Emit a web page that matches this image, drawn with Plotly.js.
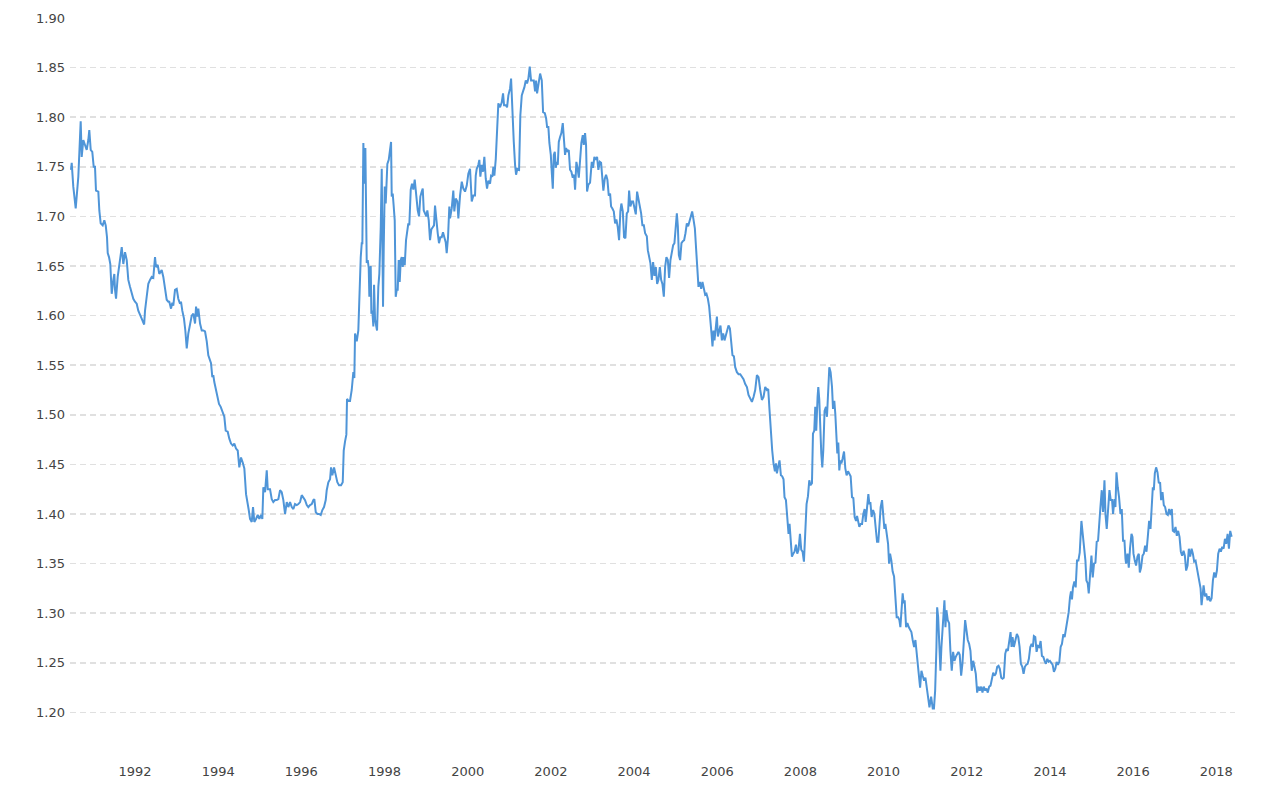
<!DOCTYPE html>
<html>
<head>
<meta charset="utf-8">
<script src="https://cdn.plot.ly/plotly-3.0.1.min.js"></script>
<style>
html,body{margin:0;padding:0;background:#fff;}
#chart{width:1280px;height:790px;}
</style>
</head>
<body>
<div id="chart"></div>
<script>
// Decimal years (time axis) and rate values
const years = [
1990.461,1990.478,1990.516,1990.574,1990.637,1990.694,1990.718,1990.757,1990.798,1990.839,1990.877,1990.901,1990.935,1990.973,1991.007,1991.038,1991.062,1991.118,1991.142,1991.175,1991.223,1991.262,1991.296,1991.327,1991.344,1991.375,1991.406,1991.440,1991.479,1991.503,1991.520,1991.544,1991.584,1991.640,1991.681,1991.719,1991.760,1991.801,1991.839,1991.880,1991.921,1991.959,1992.000,1992.041,1992.079,1992.120,1992.161,1992.220,1992.241,1992.281,1992.320,1992.361,1992.402,1992.440,1992.481,1992.505,1992.546,1992.584,1992.642,1992.681,1992.722,1992.762,1992.801,
1992.825,1992.866,1992.897,1992.921,1992.962,1993.003,1993.041,1993.082,1993.106,1993.137,1993.178,1993.210,1993.244,1993.282,1993.323,1993.364,1993.403,1993.444,1993.468,1993.499,1993.523,1993.564,1993.605,1993.643,1993.684,1993.725,1993.763,1993.804,1993.828,1993.859,1993.883,1993.907,1993.941,1993.980,1994.020,1994.061,1994.109,1994.148,1994.181,1994.229,1994.268,1994.309,1994.350,1994.388,1994.429,1994.470,1994.508,1994.549,1994.590,1994.629,1994.670,1994.701,1994.735,1994.766,1994.807,1994.838,1994.869,1994.910,1994.951,1994.990,1995.031,1995.062,
1995.086,1995.127,1995.168,1995.192,1995.247,1995.288,1995.326,1995.367,1995.408,1995.447,1995.488,1995.528,1995.567,1995.608,1995.649,1995.687,1995.728,1995.769,1995.808,1995.848,1995.889,1995.928,1995.969,1996.009,1996.048,1996.089,1996.130,1996.168,1996.209,1996.250,1996.288,1996.312,1996.346,1996.385,1996.425,1996.466,1996.505,1996.545,1996.586,1996.610,1996.649,1996.690,1996.714,1996.745,1996.786,1996.827,1996.865,1996.906,1996.954,1996.995,1997.019,1997.050,1997.082,1997.098,1997.130,1997.170,1997.211,1997.250,1997.274,1997.291,1997.332,1997.370,1997.394,
1997.428,1997.452,1997.467,1997.491,1997.515,1997.539,1997.556,1997.572,1997.596,1997.620,1997.635,1997.668,1997.683,1997.707,1997.731,1997.748,1997.772,1997.803,1997.820,1997.851,1997.875,1997.909,1997.933,1997.947,1997.964,1997.981,1998.005,1998.029,1998.053,1998.068,1998.101,1998.133,1998.157,1998.173,1998.197,1998.221,1998.245,1998.269,1998.293,1998.317,1998.341,1998.365,1998.390,1998.414,1998.438,1998.462,1998.486,1998.517,1998.548,1998.572,1998.596,1998.630,1998.661,1998.693,1998.726,1998.750,1998.774,1998.798,1998.830,1998.861,1998.895,1998.919,1998.943,1998.974,1999.005,1999.029,1999.063,1999.094,1999.125,1999.159,1999.190,1999.214,1999.245,1999.279,1999.310,1999.342,1999.375,1999.406,1999.438,1999.471,1999.495,1999.527,1999.558,
1999.575,1999.616,1999.654,1999.678,1999.712,1999.751,1999.775,1999.816,1999.857,1999.895,1999.936,1999.977,2000.015,2000.056,2000.097,2000.136,2000.176,2000.193,2000.217,2000.256,2000.280,2000.304,2000.337,2000.369,2000.400,2000.434,2000.465,2000.496,2000.537,2000.561,2000.593,2000.617,2000.641,2000.675,2000.706,2000.737,2000.778,2000.819,2000.850,2000.874,2000.915,2000.946,2000.978,2001.019,2001.043,2001.074,2001.108,2001.139,2001.163,2001.194,2001.235,2001.266,2001.300,2001.338,2001.362,2001.396,2001.427,2001.459,2001.492,2001.524,2001.555,2001.589,2001.620,2001.644,2001.668,2001.700,2001.741,2001.781,
2001.813,2001.854,2001.885,2001.909,2001.940,2001.964,2001.998,2002.022,2002.046,2002.070,2002.094,2002.118,2002.142,2002.166,2002.190,2002.221,2002.252,2002.286,2002.317,2002.341,2002.365,2002.397,2002.430,2002.461,2002.493,2002.526,2002.558,2002.582,2002.613,2002.637,2002.671,2002.702,2002.733,2002.767,2002.791,2002.822,2002.846,2002.870,2002.902,2002.942,2002.983,2003.014,2003.046,2003.080,2003.111,2003.142,2003.176,2003.207,2003.238,2003.262,2003.296,2003.327,2003.359,2003.392,2003.424,2003.448,2003.479,2003.513,2003.544,2003.575,2003.609,2003.640,2003.671,2003.695,2003.729,2003.760,2003.792,2003.825,2003.857,2003.881,2003.912,2003.946,2003.977,2004.008,2004.042,2004.073,2004.105,2004.138,
2004.170,2004.201,2004.235,2004.266,2004.307,2004.331,2004.362,2004.393,2004.427,2004.458,2004.490,2004.523,2004.555,2004.586,2004.620,2004.651,2004.682,2004.716,2004.747,2004.778,2004.812,2004.843,2004.875,2004.908,2004.940,2004.971,2004.995,2005.029,2005.053,2005.077,2005.108,2005.140,2005.173,2005.204,2005.236,2005.269,2005.301,2005.332,2005.366,2005.397,2005.429,2005.462,2005.494,2005.518,2005.549,2005.583,2005.614,2005.645,2005.679,2005.710,2005.741,2005.775,2005.806,2005.838,2005.862,2005.886,2005.910,2005.934,2005.968,2005.992,2006.016,2006.047,2006.078,2006.112,2006.143,2006.175,2006.208,2006.240,2006.271,2006.305,2006.336,2006.367,2006.401,
2006.432,2006.473,2006.512,2006.553,2006.593,2006.632,2006.673,2006.714,2006.752,2006.793,2006.834,2006.873,2006.913,2006.954,2006.993,2007.034,2007.074,2007.113,2007.154,2007.195,2007.226,2007.257,2007.291,2007.322,2007.353,2007.387,2007.411,2007.435,2007.466,2007.498,2007.531,2007.563,2007.594,2007.618,2007.652,2007.683,2007.715,2007.739,2007.763,2007.796,2007.828,2007.859,2007.893,2007.924,2007.955,2007.989,2008.020,2008.052,2008.085,2008.117,2008.148,2008.182,2008.213,2008.244,2008.278,2008.302,2008.333,2008.357,2008.381,2008.413,2008.430,2008.454,2008.478,2008.502,2008.526,2008.550,2008.581,2008.615,2008.639,2008.671,
2008.695,2008.726,2008.760,2008.784,2008.815,2008.839,2008.871,2008.887,2008.911,2008.935,2008.960,2008.984,2009.015,2009.049,2009.080,2009.111,2009.145,2009.176,2009.208,2009.241,2009.273,2009.304,2009.338,2009.362,2009.386,2009.417,2009.448,2009.482,2009.513,2009.545,2009.569,2009.602,2009.634,2009.658,2009.682,2009.713,2009.747,2009.778,2009.809,2009.843,2009.874,2009.898,2009.930,2009.963,2009.995,2010.019,2010.043,2010.074,2010.108,2010.132,2010.156,2010.187,2010.218,2010.252,2010.283,2010.315,2010.348,2010.380,2010.404,2010.435,2010.459,2010.483,2010.507,2010.541,2010.572,2010.604,2010.637,2010.669,2010.700,2010.734,2010.765,2010.796,2010.820,2010.845,2010.878,2010.910,2010.941,2010.975,
2011.006,2011.030,2011.062,2011.103,2011.143,2011.182,2011.211,2011.240,2011.271,2011.288,2011.312,2011.336,2011.367,2011.391,2011.415,2011.439,2011.463,2011.487,2011.511,2011.543,2011.576,2011.607,2011.639,2011.672,2011.704,2011.735,2011.769,2011.800,2011.831,2011.865,2011.896,2011.928,2011.961,2011.993,2012.024,2012.058,2012.089,2012.120,2012.154,2012.185,2012.217,2012.250,2012.282,2012.313,2012.347,2012.378,2012.409,2012.443,2012.474,2012.506,2012.539,2012.571,2012.602,2012.636,2012.667,2012.699,2012.732,2012.764,2012.795,2012.829,2012.860,2012.891,2012.925,2012.956,2012.988,2013.022,2013.053,2013.077,2013.101,2013.132,2013.166,
2013.205,2013.239,2013.270,2013.301,2013.335,2013.366,2013.398,2013.431,2013.463,2013.494,2013.528,2013.559,2013.590,2013.614,2013.648,2013.679,2013.711,2013.744,2013.776,2013.807,2013.841,2013.872,2013.903,2013.937,2013.969,2014.000,2014.034,2014.065,2014.096,2014.130,2014.161,2014.193,2014.226,2014.258,2014.289,2014.323,2014.354,2014.386,2014.419,2014.451,2014.482,2014.506,2014.530,2014.554,2014.588,2014.619,2014.651,2014.684,2014.716,2014.740,2014.757,2014.788,2014.819,2014.853,2014.877,2014.909,2014.933,2014.964,2014.998,2015.029,2015.060,2015.094,2015.125,2015.157,2015.181,2015.214,2015.246,2015.277,2015.311,2015.335,2015.366,2015.397,2015.431,2015.462,2015.494,2015.518,2015.551,2015.575,2015.600,2015.631,2015.662,2015.696,
2015.727,2015.758,2015.792,2015.816,2015.831,2015.865,2015.896,2015.927,2015.961,2015.985,2016.009,2016.040,2016.072,2016.105,2016.137,2016.161,2016.192,2016.226,2016.257,2016.288,2016.322,2016.353,2016.385,2016.418,2016.450,2016.474,2016.498,2016.522,2016.553,2016.587,2016.618,2016.649,2016.673,2016.707,2016.738,2016.770,2016.803,2016.835,2016.866,2016.900,2016.931,2016.955,2016.986,2017.020,2017.051,2017.083,2017.116,2017.148,2017.179,2017.213,2017.244,2017.275,2017.309,2017.340,2017.372,2017.406,2017.437,2017.468,2017.502,2017.533,2017.565,2017.598,2017.622,2017.646,2017.671,2017.695,2017.726,2017.757,2017.791,2017.822,2017.854,2017.887,2017.919,2017.950,2017.984,2018.015,2018.046,2018.080,2018.111,2018.143,2018.176,2018.208,2018.239,2018.273,2018.304,2018.335,2018.369
];
const values = [
1.747,1.754,1.730,1.708,1.740,1.796,1.760,1.777,1.772,1.767,1.777,1.787,1.767,1.765,1.750,1.750,1.726,1.725,1.706,1.693,1.691,1.696,1.691,1.679,1.663,1.659,1.652,1.622,1.636,1.642,1.626,1.617,1.639,1.659,1.669,1.652,1.664,1.656,1.636,1.629,1.622,1.617,1.614,1.612,1.605,1.600,1.597,1.591,1.605,1.619,1.632,1.636,1.639,1.638,1.659,1.649,1.651,1.642,1.646,1.639,1.626,1.616,1.614,
1.614,1.607,1.613,1.610,1.626,1.627,1.617,1.612,1.614,1.605,1.597,1.585,1.567,1.582,1.592,1.600,1.602,1.592,1.609,1.599,1.607,1.592,1.585,1.585,1.584,1.574,1.560,1.555,1.552,1.538,1.540,1.533,1.526,1.520,1.511,1.508,1.503,1.498,1.484,1.483,1.476,1.471,1.469,1.471,1.466,1.464,1.447,1.457,1.452,1.446,1.420,1.414,1.404,1.395,1.392,1.407,1.392,1.395,1.399,1.395,1.399,1.395,
1.427,1.422,1.444,1.425,1.425,1.415,1.412,1.414,1.414,1.415,1.424,1.422,1.414,1.400,1.412,1.407,1.412,1.407,1.405,1.410,1.409,1.410,1.412,1.419,1.417,1.414,1.409,1.407,1.409,1.410,1.414,1.415,1.402,1.400,1.400,1.399,1.404,1.407,1.414,1.424,1.432,1.435,1.447,1.439,1.447,1.437,1.432,1.429,1.429,1.432,1.464,1.473,1.480,1.516,1.514,1.514,1.525,1.543,1.537,1.582,1.574,1.585,1.629,
1.659,1.673,1.673,1.774,1.733,1.769,1.716,1.653,1.656,1.648,1.619,1.650,1.602,1.605,1.589,1.631,1.596,1.589,1.585,1.629,1.642,1.689,1.748,1.682,1.609,1.669,1.730,1.713,1.730,1.753,1.757,1.767,1.775,1.720,1.723,1.710,1.696,1.619,1.626,1.626,1.656,1.634,1.656,1.659,1.649,1.659,1.651,1.676,1.686,1.693,1.691,1.727,1.733,1.727,1.737,1.727,1.710,1.706,1.700,1.720,1.725,1.728,1.706,1.703,1.700,1.706,1.696,1.676,1.687,1.689,1.691,1.711,1.693,1.683,1.673,1.679,1.679,1.684,1.679,1.674,1.663,1.679,1.710,
1.698,1.708,1.726,1.705,1.718,1.715,1.698,1.721,1.735,1.728,1.725,1.731,1.743,1.748,1.715,1.721,1.721,1.741,1.748,1.752,1.757,1.740,1.752,1.745,1.760,1.738,1.728,1.736,1.733,1.741,1.740,1.750,1.741,1.758,1.782,1.814,1.810,1.815,1.824,1.812,1.812,1.810,1.822,1.829,1.839,1.802,1.775,1.752,1.742,1.748,1.747,1.802,1.822,1.827,1.830,1.837,1.834,1.839,1.851,1.837,1.837,1.837,1.826,1.837,1.824,1.833,1.844,1.837,
1.805,1.804,1.799,1.790,1.790,1.774,1.762,1.744,1.728,1.762,1.765,1.749,1.755,1.752,1.775,1.780,1.784,1.794,1.775,1.762,1.769,1.765,1.767,1.747,1.745,1.739,1.742,1.727,1.755,1.750,1.739,1.762,1.774,1.782,1.772,1.784,1.772,1.725,1.732,1.734,1.755,1.749,1.760,1.757,1.760,1.747,1.755,1.754,1.738,1.726,1.738,1.742,1.737,1.721,1.723,1.710,1.708,1.705,1.693,1.697,1.689,1.676,1.705,1.713,1.705,1.679,1.678,1.703,1.705,1.726,1.710,1.715,1.715,1.708,1.702,1.725,1.718,1.710,
1.703,1.691,1.691,1.683,1.680,1.666,1.658,1.653,1.636,1.654,1.640,1.649,1.632,1.636,1.649,1.636,1.632,1.619,1.649,1.659,1.656,1.638,1.656,1.666,1.671,1.673,1.683,1.703,1.690,1.661,1.656,1.673,1.675,1.676,1.683,1.693,1.690,1.695,1.700,1.705,1.697,1.688,1.666,1.649,1.629,1.634,1.627,1.634,1.627,1.621,1.622,1.617,1.609,1.596,1.582,1.569,1.585,1.575,1.592,1.599,1.579,1.585,1.590,1.575,1.582,1.575,1.580,1.585,1.590,1.587,1.568,1.560,1.559,
1.548,1.543,1.541,1.541,1.538,1.536,1.531,1.528,1.520,1.516,1.513,1.518,1.525,1.540,1.538,1.525,1.515,1.518,1.528,1.525,1.526,1.505,1.481,1.464,1.451,1.443,1.451,1.441,1.448,1.454,1.439,1.438,1.435,1.417,1.414,1.400,1.380,1.390,1.379,1.357,1.360,1.362,1.369,1.360,1.364,1.380,1.364,1.362,1.352,1.380,1.410,1.418,1.434,1.429,1.431,1.481,1.484,1.508,1.484,1.518,1.528,1.515,1.484,1.461,1.447,1.464,1.504,1.508,1.498,1.535,
1.548,1.543,1.528,1.506,1.514,1.501,1.481,1.461,1.472,1.444,1.454,1.451,1.456,1.463,1.446,1.439,1.443,1.441,1.438,1.417,1.416,1.397,1.393,1.398,1.392,1.387,1.390,1.390,1.400,1.405,1.392,1.404,1.420,1.410,1.412,1.397,1.404,1.400,1.387,1.372,1.372,1.393,1.407,1.414,1.400,1.385,1.390,1.377,1.370,1.350,1.360,1.353,1.342,1.337,1.320,1.296,1.296,1.293,1.286,1.306,1.320,1.310,1.313,1.286,1.290,1.286,1.283,1.281,1.273,1.266,1.273,1.256,1.250,1.239,1.225,1.242,1.237,1.232,
1.235,1.226,1.216,1.205,1.216,1.204,1.204,1.222,1.266,1.306,1.296,1.266,1.242,1.266,1.286,1.300,1.313,1.286,1.303,1.293,1.290,1.262,1.242,1.261,1.252,1.256,1.259,1.261,1.258,1.237,1.249,1.276,1.293,1.283,1.273,1.269,1.262,1.242,1.252,1.246,1.239,1.220,1.226,1.222,1.226,1.220,1.226,1.222,1.224,1.220,1.226,1.227,1.232,1.240,1.237,1.239,1.246,1.247,1.244,1.235,1.234,1.235,1.259,1.264,1.262,1.273,1.281,1.266,1.276,1.266,1.274,
1.279,1.276,1.266,1.249,1.246,1.239,1.246,1.248,1.249,1.254,1.266,1.269,1.266,1.277,1.276,1.261,1.267,1.266,1.272,1.257,1.256,1.252,1.249,1.254,1.251,1.252,1.249,1.248,1.241,1.244,1.251,1.248,1.251,1.266,1.269,1.279,1.276,1.284,1.289,1.301,1.316,1.322,1.314,1.326,1.332,1.326,1.353,1.353,1.361,1.376,1.393,1.380,1.368,1.353,1.333,1.330,1.320,1.343,1.358,1.336,1.350,1.351,1.372,1.373,1.393,1.407,1.424,1.402,1.434,1.400,1.385,1.400,1.424,1.414,1.414,1.400,1.415,1.407,1.442,1.427,1.417,1.400,
1.405,1.373,1.373,1.355,1.350,1.360,1.346,1.366,1.380,1.377,1.360,1.353,1.348,1.357,1.360,1.341,1.346,1.358,1.360,1.368,1.362,1.377,1.393,1.385,1.407,1.427,1.424,1.441,1.447,1.442,1.431,1.432,1.414,1.422,1.409,1.407,1.400,1.399,1.405,1.399,1.405,1.383,1.382,1.387,1.378,1.383,1.377,1.362,1.358,1.363,1.358,1.343,1.348,1.365,1.357,1.365,1.360,1.352,1.353,1.346,1.340,1.330,1.325,1.308,1.323,1.328,1.317,1.320,1.313,1.317,1.312,1.315,1.333,1.341,1.336,1.343,1.360,1.365,1.362,1.367,1.365,1.375,1.370,1.380,1.365,1.383,1.377
];
const xTickVals = [1992,1994,1996,1998,2000,2002,2004,2006,2008,2010,2012,2014,2016,2018];
const xTickText = ["1992","1994","1996","1998","2000","2002","2004","2006","2008","2010","2012","2014","2016","2018"];
const yTickVals = [1.20,1.25,1.30,1.35,1.40,1.45,1.50,1.55,1.60,1.65,1.70,1.75,1.80,1.85,1.90];

const trace = {
  x: years,
  y: values,
  type: 'scatter',
  mode: 'lines',
  line: {color: '#4f95d8', width: 2},
  hoverinfo: 'skip'
};

const layout = {
  width: 1280,
  height: 790,
  margin: {l: 70, r: 45, t: 18, b: 28},
  paper_bgcolor: '#ffffff',
  plot_bgcolor: '#ffffff',
  showlegend: false,
  font: {family: 'DejaVu Sans, Verdana, sans-serif', size: 13, color: '#444444'},
  xaxis: {
    type: 'linear',
    range: [1990.437, 2018.45],
    tickvals: xTickVals,
    ticktext: xTickText,
    showgrid: false,
    zeroline: false,
    showline: false,
    ticks: '',
    tickfont: {size: 13, color: '#444444'}
  },
  yaxis: {
    range: [1.15, 1.90],
    tickvals: yTickVals,
    tickformat: '.2f',
    showgrid: true,
    gridcolor: '#e0e0e0',
    griddash: '6px,4px',
    gridwidth: 1.5,
    zeroline: false,
    showline: false,
    ticks: '',
    ticklabelstandoff: 4,
    tickfont: {size: 13, color: '#444444'}
  }
};

Plotly.newPlot('chart', [trace], layout, {staticPlot: true, displayModeBar: false});
</script>
</body>
</html>
